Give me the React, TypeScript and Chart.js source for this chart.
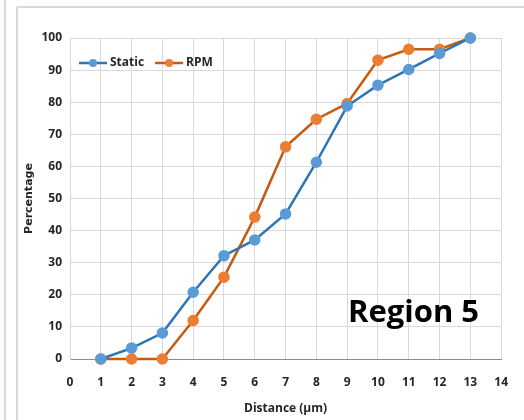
import React, { useEffect, useRef } from "react";
import { Chart, registerables } from "chart.js";

Chart.register(...registerables);

const distances = [1, 2, 3, 4, 5, 6, 7, 8, 9, 10, 11, 12, 13];
const staticValues = [0, 3.4, 8.1, 20.8, 32.2, 37.1, 45.2, 61.3, 78.8, 85.3, 90.2, 95.2, 100];
const rpmValues = [0, 0, 0, 12.0, 25.5, 44.2, 66.1, 74.7, 79.6, 93.1, 96.5, 96.5, 100];
const seriesNames = ["Static", "RPM"];
const annotationText = "Region 5";
const xTitle = "Distance (\u00b5m)";
const yTitle = "Percentage";

const FONT = '"Open Sans", "DejaVu Sans", sans-serif';
const BLUE_LINE = "#2e75b6";
const BLUE_PT = "#5b9bd5";
const ORANGE_LINE = "#c55a11";
const ORANGE_PT = "#ed7d31";

const framePlugin = {
  id: "frame",
  beforeDraw(chart: any) {
    const ctx = chart.ctx;
    ctx.save();
    ctx.strokeStyle = "#d9d9d9";
    ctx.lineWidth = 2;
    ctx.beginPath();
    ctx.moveTo(5, 0);
    ctx.lineTo(5, 420);
    ctx.moveTo(17, 7);
    ctx.lineTo(17, 420);
    ctx.moveTo(17, 7);
    ctx.lineTo(524, 7);
    ctx.stroke();
    ctx.restore();
  },
  afterDraw(chart: any) {
    const ctx = chart.ctx;
    const area = chart.chartArea;
    ctx.save();
    // legend
    const items = [
      { name: seriesNames[0], line: BLUE_LINE, pt: BLUE_PT },
      { name: seriesNames[1], line: ORANGE_LINE, pt: ORANGE_PT },
    ];
    let x = area.left + 9;
    const y = area.top + 25;
    ctx.font = "bold 12px " + FONT;
    ctx.textBaseline = "middle";
    ctx.textAlign = "left";
    items.forEach((it) => {
      ctx.strokeStyle = it.line;
      ctx.lineWidth = 2.5;
      ctx.beginPath();
      ctx.moveTo(x, y);
      ctx.lineTo(x + 28, y);
      ctx.stroke();
      ctx.fillStyle = it.pt;
      ctx.beginPath();
      ctx.arc(x + 14, y, 4, 0, Math.PI * 2);
      ctx.fill();
      ctx.fillStyle = "#262626";
      ctx.fillText(it.name, x + 31, y);
      x += 31 + ctx.measureText(it.name).width + 11;
    });
    // annotation
    ctx.font = "bold 31px " + FONT;
    ctx.fillStyle = "#000";
    ctx.textBaseline = "alphabetic";
    ctx.fillText(annotationText, 348, 322);
    ctx.restore();
  },
};

export default function App() {
  const ref = useRef<HTMLCanvasElement | null>(null);
  useEffect(() => {
    if (!ref.current) return;
    const chart = new Chart(ref.current, {
      type: "line",
      data: {
        datasets: [
          {
            label: seriesNames[0],
            data: distances.map((d, i) => ({ x: d, y: staticValues[i] })),
            borderColor: BLUE_LINE,
            backgroundColor: BLUE_PT,
            pointBackgroundColor: BLUE_PT,
            pointBorderColor: BLUE_PT,
            pointRadius: 4.5,
            borderWidth: 2.5,
            clip: false,
          },
          {
            label: seriesNames[1],
            data: distances.map((d, i) => ({ x: d, y: rpmValues[i] })),
            borderColor: ORANGE_LINE,
            backgroundColor: ORANGE_PT,
            pointBackgroundColor: ORANGE_PT,
            pointBorderColor: ORANGE_PT,
            pointRadius: 4.5,
            borderWidth: 2.5,
            clip: false,
          },
        ],
      },
      options: {
        animation: false,
        responsive: false,
        layout: { padding: { left: 0, top: 38, right: 19, bottom: 0 } },
        plugins: { legend: { display: false }, tooltip: { enabled: false } },
        scales: {
          x: {
            type: "linear",
            min: 0,
            max: 14,
            ticks: {
              stepSize: 1,
              padding: 16,
              color: "#262626",
              font: { family: FONT, size: 12, weight: "bold" },
            },
            grid: { color: "#d9d9d9", drawTicks: false },
            border: { color: "#8c8c8c", width: 1 },
            title: {
              display: true,
              text: xTitle,
              color: "#262626",
              font: { family: FONT, size: 12, weight: "bold" },
              padding: { top: 0, bottom: 4 },
            },
            afterFit: (s: any) => {
              s.height = 61;
            },
          },
          y: {
            min: 0,
            max: 100,
            ticks: {
              stepSize: 10,
              padding: 8,
              color: "#262626",
              font: { family: FONT, size: 12, weight: "bold" },
            },
            grid: { color: "#d9d9d9", drawTicks: false },
            border: { color: "#d9d9d9" },
            title: {
              display: true,
              text: yTitle,
              color: "#262626",
              font: { family: '"DejaVu Sans", sans-serif', size: 11, weight: "bold" },
              padding: { top: 23, bottom: 0 },
            },
            afterFit: (s: any) => {
              s.width = 70;
            },
          },
        },
      } as any,
      plugins: [framePlugin],
    });
    return () => chart.destroy();
  }, []);
  return (
    <div style={{ position: "absolute", left: 0, top: 0, width: 524, height: 420, background: "#fff" }}>
      <canvas ref={ref} width={524} height={420} style={{ display: "block" }} />
    </div>
  );
}
